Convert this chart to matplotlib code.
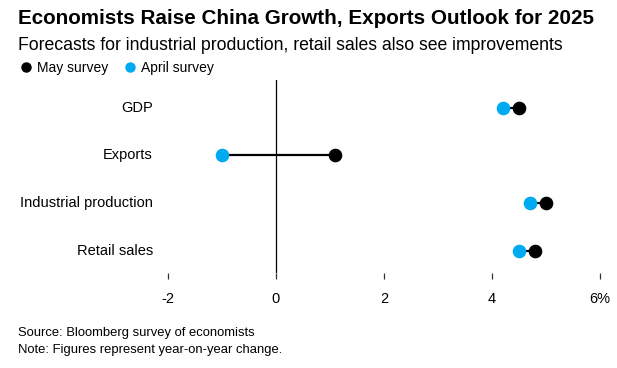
import numpy as np
import matplotlib
matplotlib.use("Agg")
import matplotlib.pyplot as plt
from matplotlib.lines import Line2D
from matplotlib.transforms import blended_transform_factory

plt.rcParams['font.family'] = ['Liberation Sans', 'DejaVu Sans']

categories = ["GDP", "Exports", "Industrial production", "Retail sales"]
may_survey = [4.5, 1.1, 5.0, 4.8]
april_survey = [4.2, -1.0, 4.7, 4.5]
xticks = [-2, 0, 2, 4, 6]
xtick_labels = ["-2", "0", "2", "4", "6%"]

blue = '#00aaf0'
W, H = 617, 368

fig = plt.figure(figsize=(W / 100, H / 100), dpi=100)
ax = fig.add_axes([168 / W, 1 - 273 / H, (600 - 168) / W, (273 - 80) / H])

y = np.arange(len(categories))
ax.hlines(y, april_survey, may_survey, color='black', lw=1.6, zorder=2)
ax.plot(may_survey, y, 'o', color='black', ms=8.8, zorder=3)
ax.plot(april_survey, y, 'o', color=blue, ms=8.8, zorder=4)
ax.axvline(0, color='black', lw=0.9, zorder=1)

ax.set_xlim(-2, 6)
ax.set_ylim(3.47, -0.58)
ax.set_xticks(xticks)
ax.set_xticklabels(xtick_labels, fontsize=10.5)
ax.tick_params(axis='x', length=4, width=0.9, color='#333333', pad=10)
ax.set_yticks([])
for s in ax.spines.values():
    s.set_visible(False)

label_tr = blended_transform_factory(fig.transFigure, ax.transData)
for yi, name in zip(y, categories):
    ax.text(153 / W, yi, name, transform=label_tr, ha='right', va='center', fontsize=10.5)

fig.text(18 / W, 1 - 18 / H, "Economists Raise China Growth, Exports Outlook for 2025",
         fontsize=14.9, fontweight='bold', va='center', ha='left')
fig.text(18 / W, 1 - 45 / H, "Forecasts for industrial production, retail sales also see improvements",
         fontsize=12.7, va='center', ha='left')

handles = [Line2D([], [], marker='o', ls='', color='black', ms=6.5),
           Line2D([], [], marker='o', ls='', color=blue, ms=6.5)]
fig.legend(handles, ["May survey", "April survey"], loc='center left',
           bbox_to_anchor=(20 / W, 1 - 68 / H), ncol=2, frameon=False,
           fontsize=10, handlelength=0.8, handletextpad=0.4, columnspacing=1.2,
           borderaxespad=0, borderpad=0)

fig.text(18 / W, 1 - 333 / H, "Source: Bloomberg survey of economists", fontsize=9.4, va='center')
fig.text(18 / W, 1 - 350 / H, "Note: Figures represent year-on-year change.", fontsize=9.4, va='center')

fig.savefig("out.png", dpi=100)
